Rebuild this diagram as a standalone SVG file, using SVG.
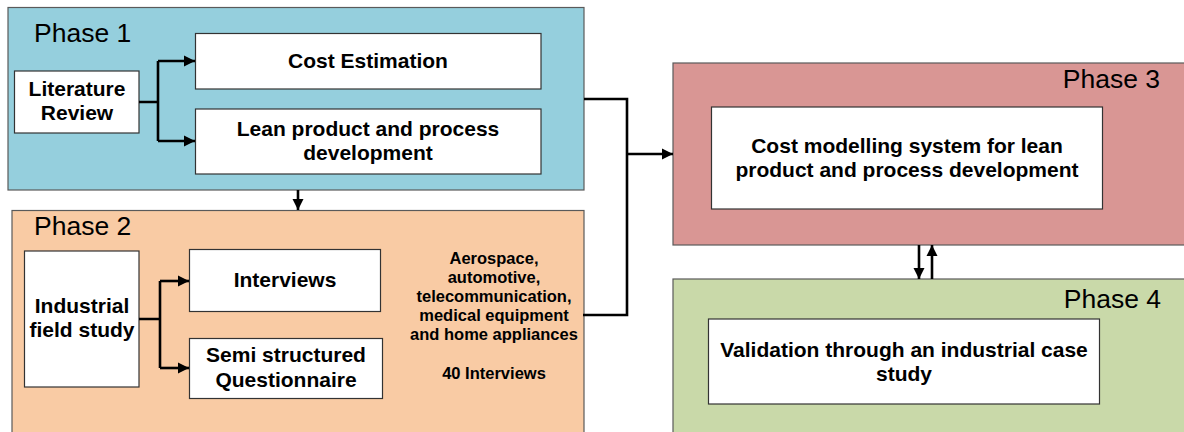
<svg xmlns="http://www.w3.org/2000/svg" width="1184" height="432" viewBox="0 0 1184 432">
<style>
.phase{stroke:#5a5a5a;stroke-width:1.2}
.box{fill:#fff;stroke:#333;stroke-width:1.2}
.ttl{font-family:"Liberation Sans",Arial,sans-serif;font-size:26.5px;fill:#000}
.lbl{font-family:"Liberation Sans",Arial,sans-serif;font-size:21px;font-weight:bold;fill:#000;text-anchor:middle}
.sm{font-family:"Liberation Sans",Arial,sans-serif;font-size:16.5px;font-weight:bold;fill:#000;text-anchor:middle}
.con{fill:none;stroke:#000;stroke-width:2.6}
</style>
<defs>
<marker id="ah" viewBox="0 0 10 10" refX="10" refY="5" markerWidth="4.4" markerHeight="4.4" orient="auto" markerUnits="strokeWidth">
<path d="M0,0 L10,5 L0,10 Z" fill="#000"/>
</marker>
</defs>
<rect width="1184" height="432" fill="#fff"/>
<g id="phase1">
<rect class="phase" x="8" y="7.5" width="576" height="182.5" fill="#95CFDD"/>
<text class="ttl" x="34" y="42">Phase 1</text>
</g>
<g id="phase2">
<rect class="phase" x="12" y="210.5" width="572" height="230" fill="#F9CBA4"/>
<text class="ttl" x="34" y="235">Phase 2</text>
<text class="sm" x="494" y="264">Aerospace,</text>
<text class="sm" x="494" y="283">automotive,</text>
<text class="sm" x="494" y="302">telecommunication,</text>
<text class="sm" x="494" y="321">medical equipment</text>
<text class="sm" x="494" y="340">and home appliances</text>
<text class="sm" x="494" y="379">40 Interviews</text>
</g>
<g id="phase3">
<rect class="phase" x="673" y="63" width="520" height="182" fill="#D99694"/>
<text class="ttl" x="1160" y="88" text-anchor="end">Phase 3</text>
</g>
<g id="phase4">
<rect class="phase" x="673" y="279" width="520" height="160" fill="#C9D9A9"/>
<text class="ttl" x="1161" y="308" text-anchor="end">Phase 4</text>
</g>
<g id="literature-review">
<rect class="box" x="14.5" y="71" width="124.5" height="62"/>
<text class="lbl" x="77" y="96">Literature</text>
<text class="lbl" x="77" y="120">Review</text>
</g>
<g id="cost-estimation">
<rect class="box" x="195.5" y="33.5" width="345.5" height="55.5"/>
<text class="lbl" x="368" y="68">Cost Estimation</text>
</g>
<g id="lean-ppd">
<rect class="box" x="195.5" y="109" width="345.5" height="65"/>
<text class="lbl" x="368" y="136">Lean product and process</text>
<text class="lbl" x="368" y="160">development</text>
</g>
<g id="industrial-field-study">
<rect class="box" x="24.5" y="251" width="114.5" height="136"/>
<text class="lbl" x="82" y="313">Industrial</text>
<text class="lbl" x="82" y="337">field study</text>
</g>
<g id="interviews">
<rect class="box" x="189.5" y="249.5" width="191" height="62"/>
<text class="lbl" x="285" y="287">Interviews</text>
</g>
<g id="questionnaire">
<rect class="box" x="189.5" y="338.5" width="193" height="60"/>
<text class="lbl" x="286" y="362">Semi structured</text>
<text class="lbl" x="286" y="387">Questionnaire</text>
</g>
<g id="cost-modelling">
<rect class="box" x="711.5" y="107" width="391" height="102"/>
<text class="lbl" x="907" y="153">Cost modelling system for lean</text>
<text class="lbl" x="907" y="177">product and process development</text>
</g>
<g id="validation">
<rect class="box" x="708.5" y="319" width="391" height="85"/>
<text class="lbl" x="904" y="357">Validation through an industrial case</text>
<text class="lbl" x="904" y="381">study</text>
</g>
<g id="connectors">
<path class="con" d="M139,102 H158 M158,61 V141"/>
<path class="con" d="M158,61 H195" marker-end="url(#ah)"/>
<path class="con" d="M158,141 H195" marker-end="url(#ah)"/>
<path class="con" d="M298,190 V210" marker-end="url(#ah)"/>
<path class="con" d="M139,319 H160 M160,281 V368"/>
<path class="con" d="M160,281 H189" marker-end="url(#ah)"/>
<path class="con" d="M160,368 H189" marker-end="url(#ah)"/>
<path class="con" d="M584,99 H627 V315 H583"/>
<path class="con" d="M627,154 H673" marker-end="url(#ah)"/>
<path class="con" d="M919,245 V279" marker-end="url(#ah)"/>
<path class="con" d="M932,279 V245" marker-end="url(#ah)"/>
</g>
</svg>
